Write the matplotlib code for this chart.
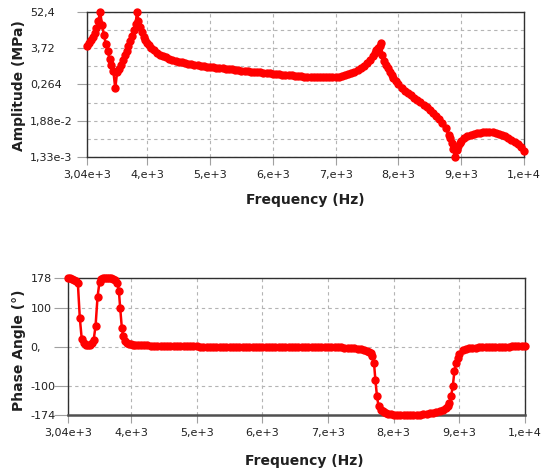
import numpy as np
import matplotlib
matplotlib.use('Agg')
import matplotlib.pyplot as plt
from matplotlib.ticker import FixedLocator, NullFormatter

plt.rcParams['font.family'] = 'DejaVu Sans'

# frequency sweep (Hz)
freq_hz = [3040, 3070, 3100, 3130, 3160, 3190, 3220, 3250, 3280, 3310, 3340, 3370,
           3400, 3430, 3460, 3490, 3520, 3550, 3580, 3610, 3640, 3670, 3700, 3730,
           3760, 3790, 3815, 3835, 3860, 3880, 3910, 3940, 3970, 4000, 4030, 4060,
           4100, 4150, 4200, 4250, 4300, 4350, 4400, 4450, 4500, 4550, 4600, 4650,
           4700, 4750, 4800, 4850, 4900, 4950, 5000, 5050, 5100, 5150, 5200, 5250,
           5300, 5350, 5400, 5450, 5500, 5550, 5600, 5650, 5700, 5750, 5800, 5850,
           5900, 5950, 6000, 6050, 6100, 6150, 6200, 6250, 6300, 6350, 6400, 6450,
           6500, 6550, 6600, 6650, 6700, 6750, 6800, 6850, 6900, 6950, 7000, 7050,
           7100, 7150, 7200, 7250, 7300, 7350, 7400,
           7450, 7500, 7550, 7600, 7625, 7650, 7675, 7700, 7722, 7745, 7770, 7800,
           7830, 7860, 7890, 7920, 7960, 8000,
           8050, 8100, 8150, 8200, 8250, 8300, 8350, 8400, 8450, 8500, 8550, 8600,
           8650, 8700, 8750, 8800,
           8825, 8850, 8875, 8900, 8925, 8950, 8975, 9000, 9050, 9100,
           9150, 9200, 9250, 9300, 9350, 9400, 9450, 9500, 9550, 9600, 9650, 9700,
           9750, 9800, 9850, 9900, 9950, 10000]

# amplitude (MPa)
amplitude_mpa = [4.5, 5.6, 7.0, 8.7, 11, 16, 28, 52, 20, 10, 5.0, 3.0,
                 1.7, 1.1, 0.7, 0.2, 0.65, 0.8, 1.1, 1.6, 2.2, 3.1, 4.4, 6.3,
                 9.3, 14, 22, 52, 28, 18, 12, 8.5, 6.7, 5.5, 4.6, 3.9,
                 3.3, 2.7, 2.3, 2.1, 1.9, 1.75, 1.6, 1.5, 1.4, 1.33, 1.27, 1.22,
                 1.17, 1.12, 1.08, 1.04, 1.01, 0.98, 0.95, 0.92, 0.9, 0.87, 0.85, 0.83,
                 0.81, 0.79, 0.77, 0.75, 0.73, 0.71, 0.70, 0.68, 0.67, 0.65, 0.64, 0.62,
                 0.61, 0.59, 0.58, 0.57, 0.56, 0.54, 0.53, 0.52, 0.51, 0.50, 0.49, 0.48,
                 0.47, 0.465, 0.46, 0.455, 0.45, 0.45, 0.45, 0.45, 0.45, 0.455, 0.46, 0.47,
                 0.49, 0.52, 0.55, 0.6, 0.65, 0.74, 0.85,
                 1.0, 1.26, 1.6, 2.1, 2.6, 3.2, 3.8, 4.5, 5.3, 2.2, 1.5, 1.1,
                 0.85, 0.68, 0.52, 0.43, 0.33, 0.27,
                 0.2, 0.165, 0.14, 0.12, 0.1, 0.084, 0.071, 0.06, 0.05, 0.04, 0.033, 0.027,
                 0.021, 0.016, 0.011, 0.0068,
                 0.0052, 0.0038, 0.0024, 0.00135, 0.0022, 0.003, 0.0037, 0.0043, 0.0052, 0.006,
                 0.0067, 0.0072, 0.0076, 0.0079, 0.0081, 0.0082, 0.0082, 0.0081, 0.0078, 0.0073,
                 0.0067, 0.006, 0.0053, 0.0046, 0.004, 0.0034, 0.0027, 0.002]

# phase angle (deg)
phase_deg = [178, 177, 176, 174, 171, 165, 75, 20, 10, 7, 6, 7,
             10, 18, 55, 130, 168, 175, 177, 178, 178, 178, 178, 176,
             173, 166, 145, 100, 50, 30, 17, 12, 9, 8, 7, 6.5,
             6, 5.5, 5, 4.7, 4.5, 4.2, 4, 3.7, 3.5, 3.3, 3.2, 3,
             2.9, 2.7, 2.6, 2.4, 2.3, 2.2, 2.1, 2, 1.9, 1.85, 1.8, 1.75,
             1.7, 1.65, 1.6, 1.55, 1.5, 1.45, 1.4, 1.35, 1.3, 1.25, 1.2, 1.15,
             1.1, 1.05, 1.0, 1.0, 1.0, 0.95, 0.9, 0.9, 0.9, 0.85, 0.8, 0.8,
             0.8, 0.75, 0.7, 0.65, 0.6, 0.55, 0.5, 0.45, 0.4, 0.3, 0.2, 0.1,
             0, -0.2, -0.5, -0.8, -1.2, -1.8, -2.5,
             -3.5, -5, -7, -10, -12, -15, -22, -40, -85, -125, -152, -160,
             -164, -167, -169, -171, -172, -173,
             -173.5, -174, -174, -174, -174, -174, -173.5, -173, -172.5, -171.5, -170, -168,
             -166, -164, -160, -155,
             -150, -143, -125, -100, -62, -40, -28, -18, -8, -4,
             -2.5, -1.5, -1, -0.5, 0, 0.3, 0.6, 0.9, 1.1, 1.3, 1.5, 1.7,
             1.9, 2.1, 2.3, 2.5, 2.7, 3]

x_ticks = [3040, 4000, 5000, 6000, 7000, 8000, 9000, 10000]
x_labels = ['3,04e+3', '4,e+3', '5,e+3', '6,e+3', '7,e+3', '8,e+3', '9,e+3', '1,e+4']
amp_ticks = [52.4, 3.72, 0.264, 1.88e-2, 1.33e-3]
amp_labels = ['52,4', '3,72', '0,264', '1,88e-2', '1,33e-3']
phase_ticks = [178, 100, 0, -100, -174]
phase_labels = ['178', '100', '0,', '-100', '-174']

W, H = 542, 472
fig = plt.figure(figsize=(W / 100, H / 100), dpi=100)
ax1 = fig.add_axes([87 / W, 1 - 157 / H, (524 - 87) / W, 145 / H])
ax2 = fig.add_axes([68 / W, 1 - 415 / H, (525 - 68) / W, 137 / H])

red = '#ff0000'
grid_kw = dict(color='#b4b4b4', linestyle=(0, (3, 3)), linewidth=0.8)

# amplitude
ax1.plot(freq_hz, amplitude_mpa, color=red, lw=1.8, marker='o', ms=5,
         mec=red, mfc=red, clip_on=False, zorder=3)
ax1.set_yscale('log')
ax1.set_xlim(3040, 10000)
ax1.set_ylim(1.33e-3, 52.4)
ax1.set_xticks(x_ticks, x_labels)
ax1.set_yticks(amp_ticks, amp_labels)
mids = np.sqrt(np.array(amp_ticks[:-1]) * np.array(amp_ticks[1:]))
ax1.yaxis.set_minor_locator(FixedLocator(mids))
ax1.yaxis.set_minor_formatter(NullFormatter())
ax1.tick_params(axis='y', which='minor', length=0)
ax1.tick_params(axis='y', which='major', length=7, pad=34, color='#a0a0a0')
ax1.grid(True, which='both', **grid_kw)

# phase
ax2.plot(freq_hz, phase_deg, color=red, lw=1.8, marker='o', ms=5,
         mec=red, mfc=red, clip_on=False, zorder=3)
ax2.set_xlim(3040, 10000)
ax2.set_ylim(-174, 178)
ax2.set_xticks(x_ticks, x_labels)
ax2.set_yticks(phase_ticks, phase_labels)
ax2.tick_params(axis='y', which='major', length=10, pad=17, color='#a0a0a0')
ax2.grid(True, **grid_kw)

for ax in (ax1, ax2):
    ax.set_axisbelow(True)
    ax.tick_params(axis='x', length=5.5, pad=4, color='#a0a0a0')
    ax.tick_params(labelsize=8, labelcolor='#202020')
    for lab in ax.get_yticklabels():
        lab.set_horizontalalignment('left')
    for s in ax.spines.values():
        s.set_color('#303030')
        s.set_linewidth(1.0)
ax2.spines['bottom'].set_linewidth(1.8)
ax2.spines['bottom'].set_color('#505050')

lab_kw = dict(fontsize=10, fontweight='bold', color='#202020', ha='center', va='center')
fig.text(305 / W, 1 - 200 / H, 'Frequency (Hz)', **lab_kw)
fig.text(304 / W, 1 - 461 / H, 'Frequency (Hz)', **lab_kw)
fig.text(19 / W, 1 - 86 / H, 'Amplitude (MPa)', rotation=90, **lab_kw)
fig.text(19 / W, 1 - 350 / H, 'Phase Angle (°)', rotation=90, **lab_kw)

fig.savefig('out.png', dpi=100)
